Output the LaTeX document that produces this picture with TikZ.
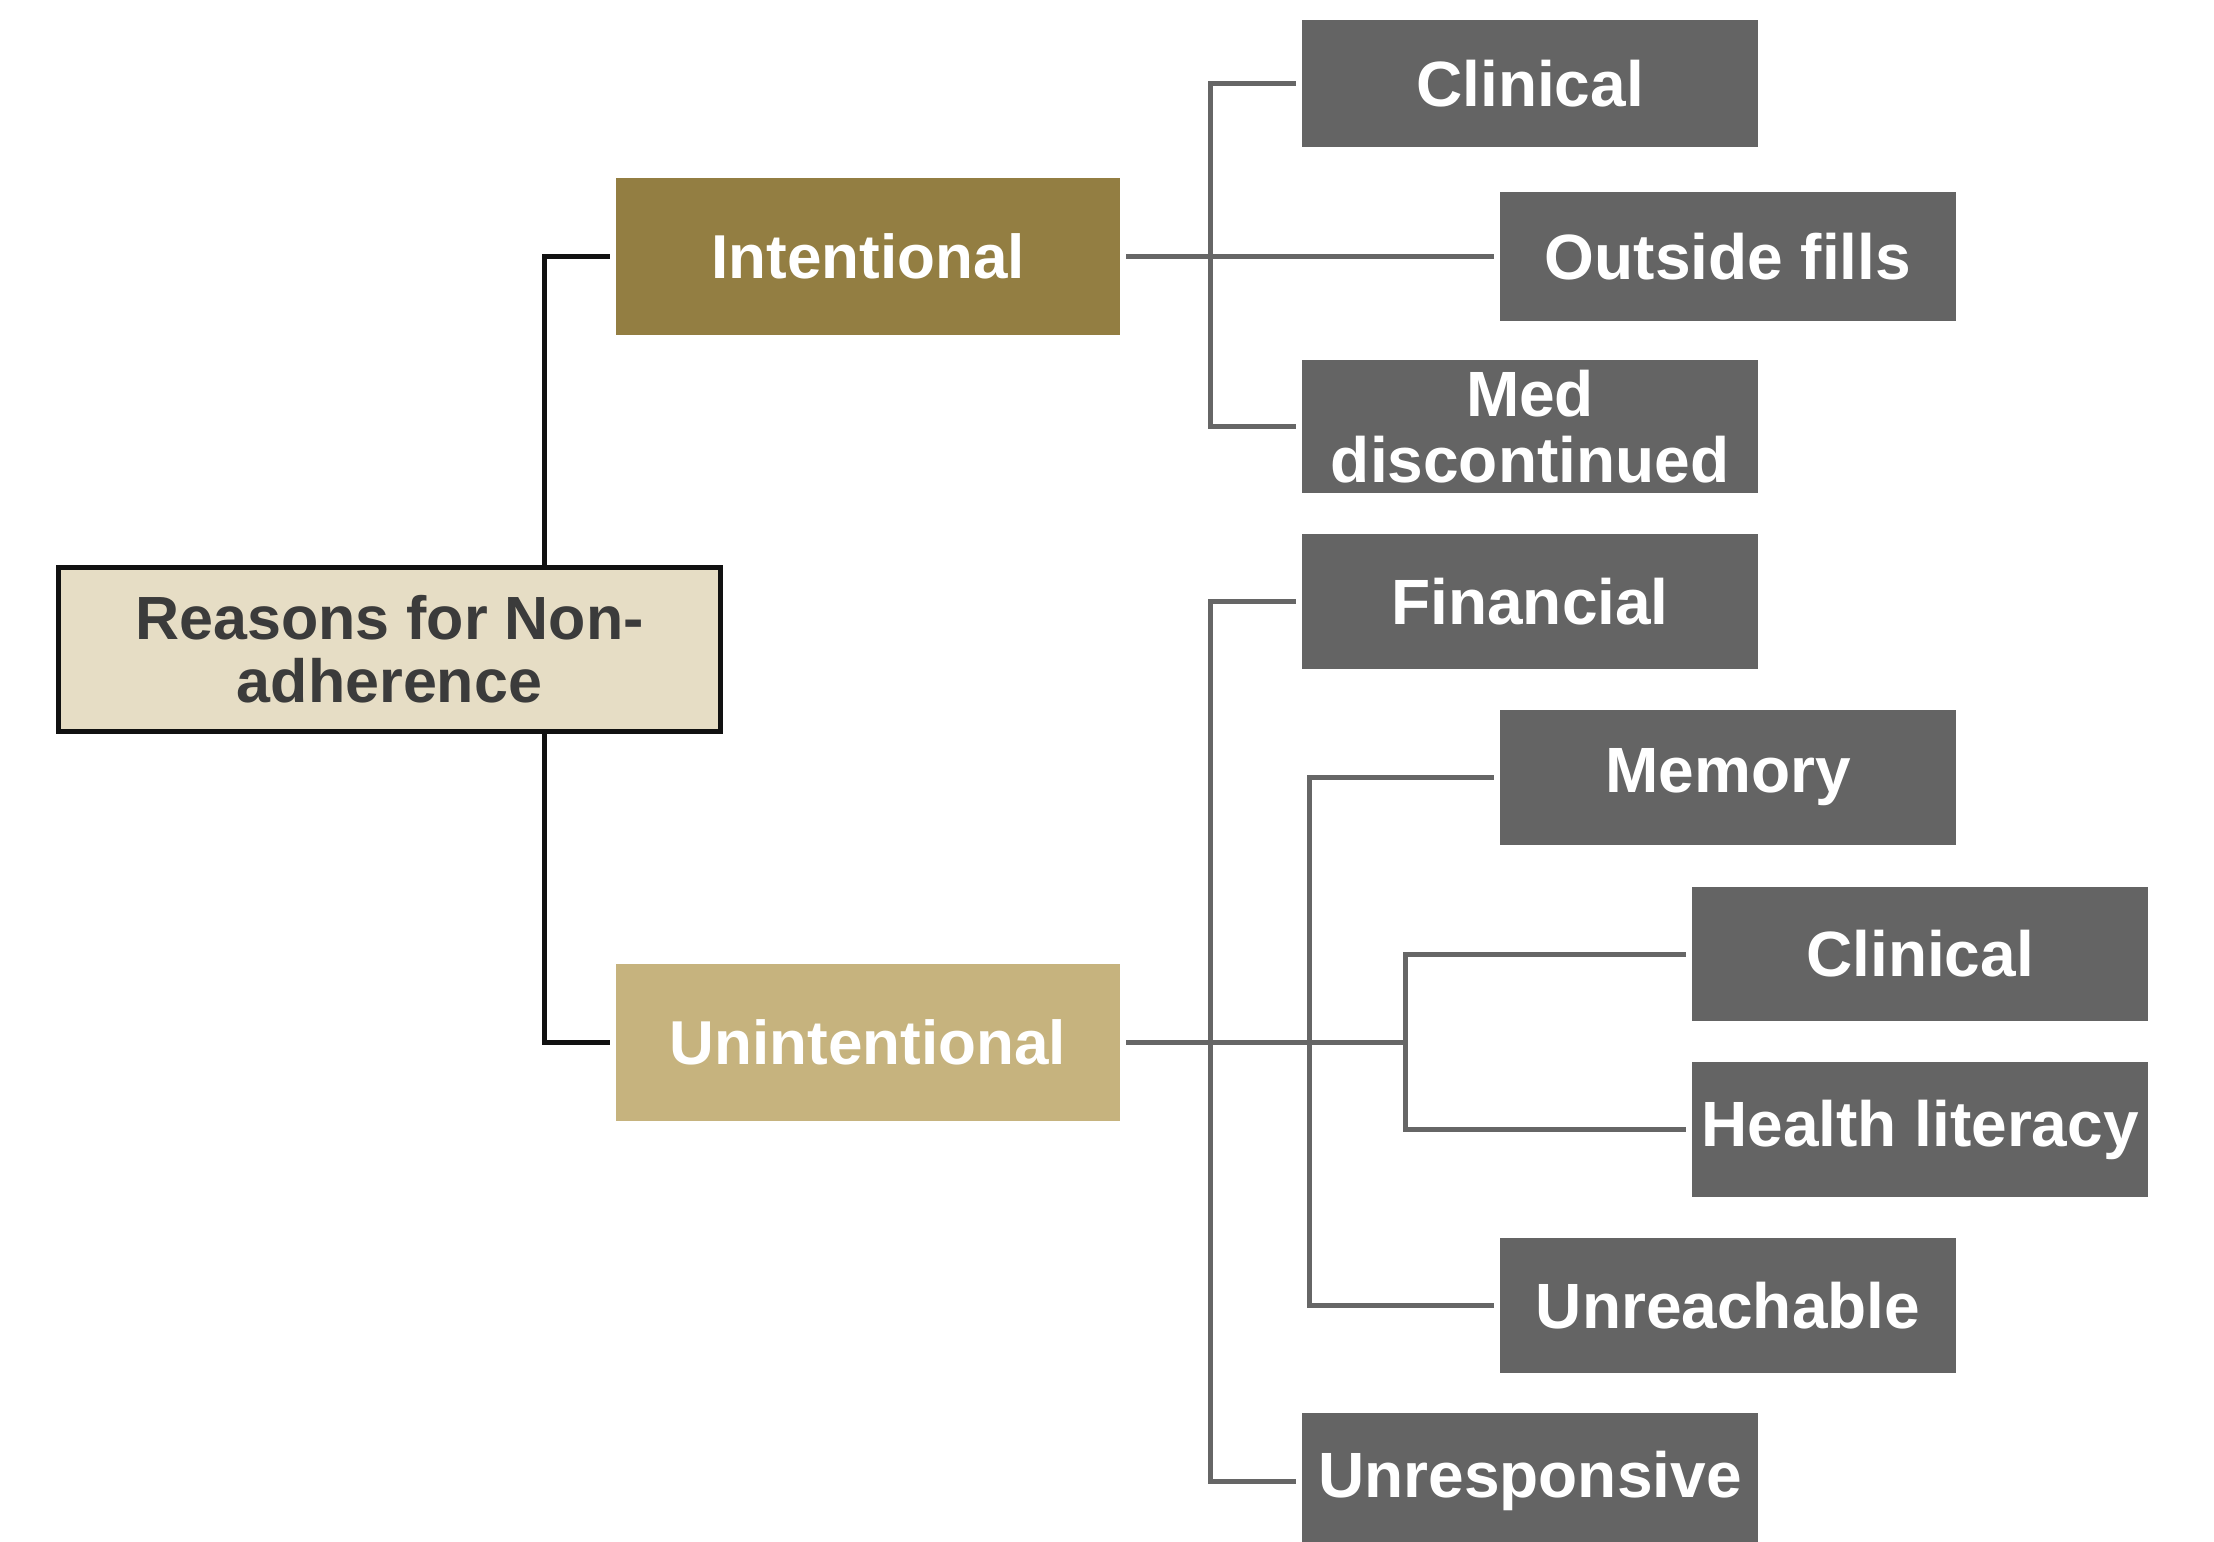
\documentclass[tikz,border=0pt]{standalone}
\usepackage{fontspec}
\setmainfont{Liberation Sans}
\usetikzlibrary{backgrounds}
\definecolor{intc}{HTML}{937E42}
\definecolor{unic}{HTML}{C6B37E}
\definecolor{rootc}{HTML}{E6DDC5}
\definecolor{boxc}{HTML}{646464}
\definecolor{rtxt}{HTML}{3B3B3B}
\definecolor{glc}{HTML}{666666}
\definecolor{blc}{HTML}{111111}
\begin{document}
\begin{tikzpicture}[x=0.5pt,y=-0.5pt,
  gbox/.style={fill=boxc,text=white,font=\bfseries\fontsize{32}{33}\selectfont,align=center,minimum width=228pt,inner sep=0pt},
  catbox/.style={text=white,font=\bfseries\fontsize{31}{32}\selectfont,align=center,minimum width=252pt,minimum height=78.5pt,inner sep=0pt},
  gline/.style={draw=glc,line width=2.5pt},
  bline/.style={draw=blc,line width=2.5pt}]
\useasboundingbox (0,0) rectangle (2214,1541);
\clip (0,0) rectangle (2214,1541);
\node[draw=blc,line width=2.5pt,fill=rootc,text=rtxt,font=\bfseries\fontsize{30.5}{31.5}\selectfont,align=center,minimum width=331pt,minimum height=82pt,inner sep=0pt] (root) at (389.5,649.5) {Reasons for Non-\\adherence};
\node[catbox,fill=intc] (int) at (868,256.5) {Intentional};
\node[catbox,fill=unic] (unint) at (868,1042) {Unintentional};
\node[gbox,minimum height=63.5pt] (clin1) at (1530,83.5) {Clinical};
\node[gbox,minimum height=64.5pt] (outside) at (1728,256.5) {Outside fills};
\node[gbox,minimum height=66.5pt] (med) at (1530,426.5) {Med\\discontinued};
\node[gbox,minimum height=67.5pt] (fin) at (1530,601.5) {Financial};
\node[gbox,minimum height=67.5pt] (mem) at (1728,777.5) {Memory};
\node[gbox,minimum height=67pt] (clin2) at (1920,954) {Clinical};
\node[gbox,minimum height=67.5pt] (health) at (1920,1129.5) {Health literacy};
\node[gbox,minimum height=67.5pt] (unreach) at (1728,1305.5) {Unreachable};
\node[gbox,minimum height=68pt] (unresp) at (1530,1481) {Unresponsive};
\coordinate (lx) at (544,649.5);
\coordinate (ix) at (1210,256.5);
\coordinate (ux1) at (1210,1042);
\coordinate (ux2) at (1309,1042);
\coordinate (ux3) at (1405,1042);
\begin{scope}[on background layer]
\draw[bline] ([xshift=-3pt]int.west) -| (lx) |- ([xshift=-3pt]unint.west);
\draw[gline] ([xshift=3pt]int.east) -- ([xshift=-3pt]outside.west);
\draw[gline] ([xshift=-3pt]clin1.west) -| (ix) |- ([xshift=-3pt]med.west);
\draw[gline] ([xshift=3pt]unint.east) -- (ux3);
\draw[gline] ([xshift=-3pt]fin.west) -| (ux1) |- ([xshift=-3pt]unresp.west);
\draw[gline] ([xshift=-3pt]mem.west) -| (ux2) |- ([xshift=-3pt]unreach.west);
\draw[gline] ([xshift=-3pt]clin2.west) -| (ux3) |- ([xshift=-3pt]health.west);
\end{scope}
\end{tikzpicture}
\end{document}
